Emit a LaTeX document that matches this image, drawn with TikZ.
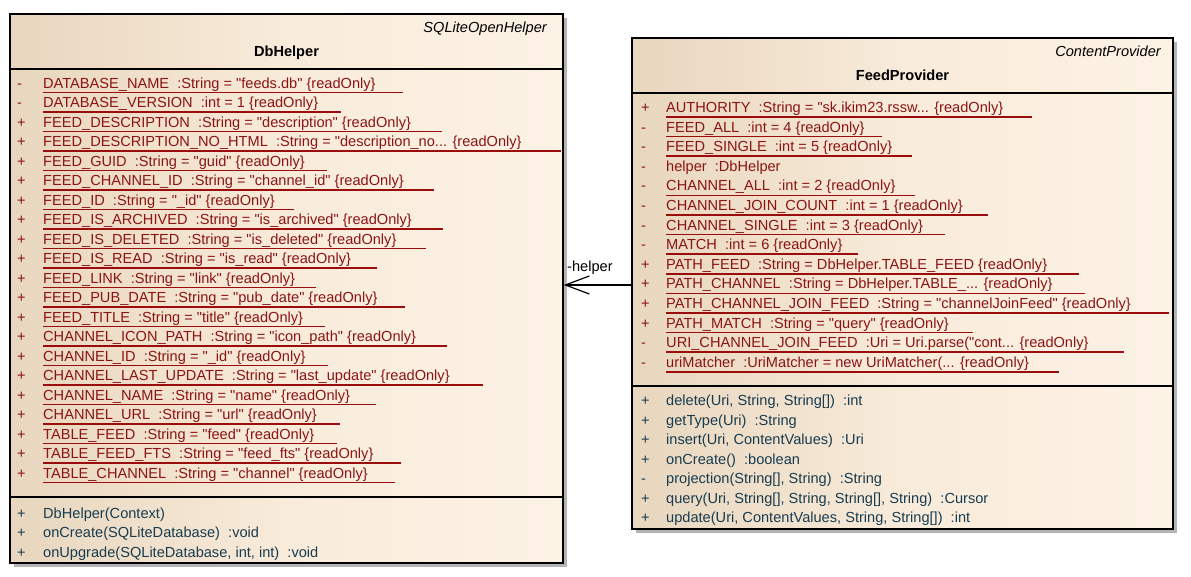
\documentclass[tikz,border=0pt]{standalone}
\usepackage{fontspec}
\setmainfont{Liberation Sans}[Ligatures=TeXOff]
\usetikzlibrary{arrows.meta,calc,shadows}
\definecolor{attrc}{RGB}{139,20,20}
\definecolor{ulc}{RGB}{155,12,12}
\definecolor{methc}{RGB}{25,60,80}
\definecolor{bgl}{RGB}{232,214,190}
\definecolor{bgm}{RGB}{248,235,218}
\definecolor{bgr}{RGB}{252,242,229}
\definecolor{shadowc}{RGB}{180,180,180}
\newcommand\attrU[6]{%
  \node[attrtxt] (#1s) at (#2,#4) {#5};
  \node[attrtxt] (#1) at (#3,#4) {#6};
  \draw[uline] ($(#1.base west)+(0,4.5)$) -- ($(#1.base west)!1.08!(#1.base east)+(1,4.5)$);}
\newcommand\rowP[7]{%
  \node[#1] (#2s) at (#3,#5) {#6};
  \node[#1] (#2) at (#4,#5) {#7};}
\begin{document}
\begin{tikzpicture}[x=1pt,y=-1pt,
  txt/.style={inner sep=0pt, anchor=base west, font=\fontsize{14.6}{17}\selectfont},
  attrtxt/.style={txt, text=attrc},
  methtxt/.style={txt, text=methc},
  uline/.style={draw=ulc, line width=1.5pt},
  umlbox/.style={draw=black, line width=1.2pt, left color=bgl, right color=bgr, middle color=bgm,
    inner sep=0pt, drop shadow={shadow xshift=4pt, shadow yshift=-4pt, fill=shadowc, opacity=1}},
  divline/.style={draw=black, line width=1.2pt},
  assoc/.style={draw=black, line width=1.2pt, -{Straight Barb[length=24pt,width=18pt]}}]
\useasboundingbox (0,0) rectangle (1191,576);
% boxes
\node[umlbox, minimum width=553pt, minimum height=549pt] (dbh) at (286.5,288.5) {};
\node[umlbox, minimum width=541pt, minimum height=491pt] (fp) at (902.5,283.5) {};
\draw[divline] (dbh.west |- 0,69) -- (dbh.east |- 0,69);
\draw[divline] (dbh.west |- 0,497) -- (dbh.east |- 0,497);
\draw[divline] (fp.west |- 0,93) -- (fp.east |- 0,93);
\draw[divline] (fp.west |- 0,386) -- (fp.east |- 0,386);
% headers
\node[txt, anchor=base east, font=\fontsize{14.6}{17}\selectfont\itshape] (dbhst) at (547,32.5) {SQLiteOpenHelper};
\node[txt, anchor=base, font=\fontsize{14.6}{17}\selectfont\bfseries] (dbhn) at (286.5,56) {DbHelper};
\node[txt, anchor=base east, font=\fontsize{14.6}{17}\selectfont\itshape] (fpst) at (1161,56) {ContentProvider};
\node[txt, anchor=base, font=\fontsize{14.6}{17}\selectfont\bfseries] (fpn) at (902.5,80) {FeedProvider};
% DbHelper attributes
\attrU{a1}{17}{43}{88}{-}{DATABASE\_NAME\ \ :String = "feeds.db" \{readOnly\}}
\attrU{a2}{17}{43}{107.5}{-}{DATABASE\_VERSION\ \ :int = 1 \{readOnly\}}
\attrU{a3}{17}{43}{127}{+}{FEED\_DESCRIPTION\ \ :String = "description" \{readOnly\}}
\attrU{a4}{17}{43}{146.5}{+}{FEED\_DESCRIPTION\_NO\_HTML\ \ :String = "description\_no... \{readOnly\}}
\attrU{a5}{17}{43}{166}{+}{FEED\_GUID\ \ :String = "guid" \{readOnly\}}
\attrU{a6}{17}{43}{185.5}{+}{FEED\_CHANNEL\_ID\ \ :String = "channel\_id" \{readOnly\}}
\attrU{a7}{17}{43}{205}{+}{FEED\_ID\ \ :String = "\_id" \{readOnly\}}
\attrU{a8}{17}{43}{224.5}{+}{FEED\_IS\_ARCHIVED\ \ :String = "is\_archived" \{readOnly\}}
\attrU{a9}{17}{43}{244}{+}{FEED\_IS\_DELETED\ \ :String = "is\_deleted" \{readOnly\}}
\attrU{a10}{17}{43}{263.5}{+}{FEED\_IS\_READ\ \ :String = "is\_read" \{readOnly\}}
\attrU{a11}{17}{43}{283}{+}{FEED\_LINK\ \ :String = "link" \{readOnly\}}
\attrU{a12}{17}{43}{302.5}{+}{FEED\_PUB\_DATE\ \ :String = "pub\_date" \{readOnly\}}
\attrU{a13}{17}{43}{322}{+}{FEED\_TITLE\ \ :String = "title" \{readOnly\}}
\attrU{a14}{17}{43}{341.5}{+}{CHANNEL\_ICON\_PATH\ \ :String = "icon\_path" \{readOnly\}}
\attrU{a15}{17}{43}{361}{+}{CHANNEL\_ID\ \ :String = "\_id" \{readOnly\}}
\attrU{a16}{17}{43}{380.5}{+}{CHANNEL\_LAST\_UPDATE\ \ :String = "last\_update" \{readOnly\}}
\attrU{a17}{17}{43}{400}{+}{CHANNEL\_NAME\ \ :String = "name" \{readOnly\}}
\attrU{a18}{17}{43}{419.5}{+}{CHANNEL\_URL\ \ :String = "url" \{readOnly\}}
\attrU{a19}{17}{43}{439}{+}{TABLE\_FEED\ \ :String = "feed" \{readOnly\}}
\attrU{a20}{17}{43}{458.5}{+}{TABLE\_FEED\_FTS\ \ :String = "feed\_fts" \{readOnly\}}
\attrU{a21}{17}{43}{478}{+}{TABLE\_CHANNEL\ \ :String = "channel" \{readOnly\}}
% DbHelper methods
\rowP{methtxt}{m1}{17}{43}{518}{+}{DbHelper(Context)}
\rowP{methtxt}{m2}{17}{43}{537.5}{+}{onCreate(SQLiteDatabase)\ \ :void}
\rowP{methtxt}{m3}{17}{43}{557}{+}{onUpgrade(SQLiteDatabase, int, int)\ \ :void}
% FeedProvider attributes
\attrU{b1}{641}{666}{112.5}{+}{AUTHORITY\ \ :String = "sk.ikim23.rssw... \{readOnly\}}
\attrU{b2}{641}{666}{132.1}{-}{FEED\_ALL\ \ :int = 4 \{readOnly\}}
\attrU{b3}{641}{666}{151.7}{-}{FEED\_SINGLE\ \ :int = 5 \{readOnly\}}
\rowP{attrtxt}{b4}{641}{666}{171.3}{-}{helper\ \ :DbHelper}
\attrU{b5}{641}{666}{190.9}{-}{CHANNEL\_ALL\ \ :int = 2 \{readOnly\}}
\attrU{b6}{641}{666}{210.5}{-}{CHANNEL\_JOIN\_COUNT\ \ :int = 1 \{readOnly\}}
\attrU{b7}{641}{666}{230.1}{-}{CHANNEL\_SINGLE\ \ :int = 3 \{readOnly\}}
\attrU{b8}{641}{666}{249.7}{-}{MATCH\ \ :int = 6 \{readOnly\}}
\attrU{b9}{641}{666}{269.3}{+}{PATH\_FEED\ \ :String = DbHelper.TABLE\_FEED \{readOnly\}}
\attrU{b10}{641}{666}{288.9}{+}{PATH\_CHANNEL\ \ :String = DbHelper.TABLE\_... \{readOnly\}}
\attrU{b11}{641}{666}{308.5}{+}{PATH\_CHANNEL\_JOIN\_FEED\ \ :String = "channelJoinFeed" \{readOnly\}}
\attrU{b12}{641}{666}{328.1}{+}{PATH\_MATCH\ \ :String = "query" \{readOnly\}}
\attrU{b13}{641}{666}{347.7}{-}{URI\_CHANNEL\_JOIN\_FEED\ \ :Uri = Uri.parse("cont... \{readOnly\}}
\attrU{b14}{641}{666}{367.3}{-}{uriMatcher\ \ :UriMatcher = new UriMatcher(... \{readOnly\}}
% FeedProvider methods
\rowP{methtxt}{n1}{641}{666}{405.5}{+}{delete(Uri, String, String[])\ \ :int}
\rowP{methtxt}{n2}{641}{666}{425}{+}{getType(Uri)\ \ :String}
\rowP{methtxt}{n3}{641}{666}{444.5}{+}{insert(Uri, ContentValues)\ \ :Uri}
\rowP{methtxt}{n4}{641}{666}{464}{+}{onCreate()\ \ :boolean}
\rowP{methtxt}{n5}{641}{666}{483.5}{-}{projection(String[], String)\ \ :String}
\rowP{methtxt}{n6}{641}{666}{503}{+}{query(Uri, String[], String, String[], String)\ \ :Cursor}
\rowP{methtxt}{n7}{641}{666}{522.5}{+}{update(Uri, ContentValues, String, String[])\ \ :int}
% association
\coordinate (hy) at (0,285);
\draw[assoc] (fp.west |- hy) -- (dbh.east |- hy);
\node[txt] (hlab) at (567,271) {-helper};
\end{tikzpicture}
\end{document}
